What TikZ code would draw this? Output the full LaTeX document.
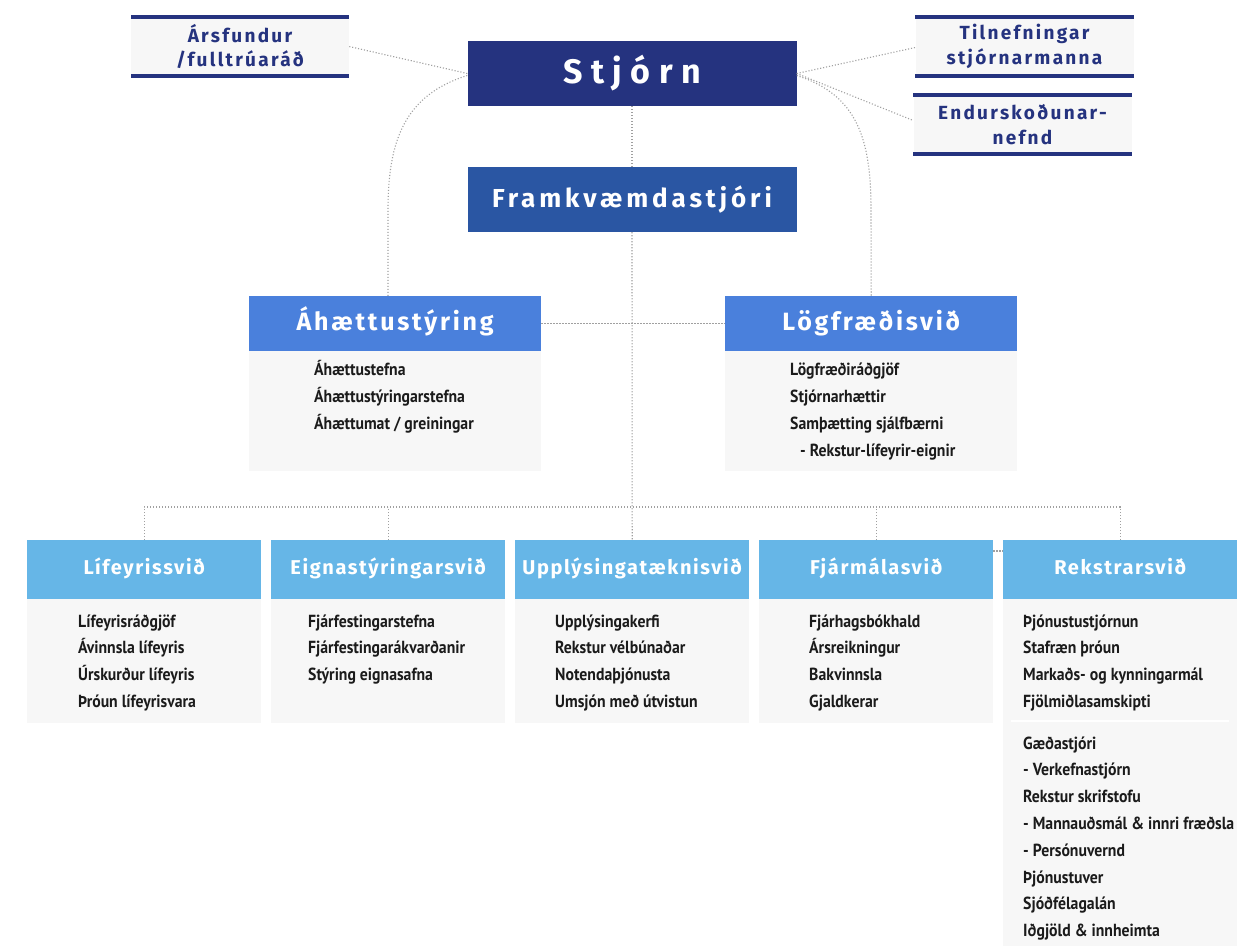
\documentclass[tikz,border=0pt]{standalone}
\usepackage{fontspec}
\setmainfont{PT Sans}
\newfontfamily\condf[FakeStretch=0.9]{PT Sans}
\newfontfamily\ttlf[LetterSpace=15]{Fira Sans}
\newfontfamily\hdrf[LetterSpace=11]{Fira Sans}
\newfontfamily\lowf[LetterSpace=8]{Fira Sans}
\newfontfamily\ttlsp[LetterSpace=25]{Fira Sans}
\newfontfamily\smallsp[LetterSpace=12]{Fira Sans}
\definecolor{navy}{HTML}{25337F}
\definecolor{framkc}{HTML}{2A56A3}
\definecolor{midblue}{HTML}{4A80DC}
\definecolor{lightblue}{HTML}{66B6E7}
\definecolor{bodygray}{HTML}{F7F7F7}
\definecolor{linegray}{HTML}{A0A0A0}
\definecolor{itemc}{HTML}{1B1B1B}
\begin{document}
\begin{tikzpicture}[x=1pt,y=-1pt,
  conn/.style={draw=linegray, line width=1.1pt, dash pattern=on 1.1pt off 1.9pt},
  topbox/.style={fill=navy, inner sep=0, minimum width=329pt, minimum height=65pt, text=white},
  smallbox/.style={fill=bodygray, inner sep=0, minimum width=218pt, minimum height=63pt, text=navy, align=center,
    font=\smallsp\bfseries\fontsize{19}{24.5}\selectfont},
  midhdr/.style={fill=midblue, inner sep=0, minimum width=292pt, minimum height=55pt, text=white,
    text height=18pt, text depth=5pt,
    font=\hdrf\bfseries\fontsize{25}{28}\selectfont, anchor=north west},
  midbody/.style={fill=bodygray, inner sep=0, minimum width=292pt, minimum height=120pt, anchor=north west},
  lowhdr/.style={fill=lightblue, inner sep=0, minimum width=234pt, minimum height=59pt, text=white,
    text height=14pt, text depth=4pt,
    font=\lowf\bfseries\fontsize{20}{22}\selectfont, anchor=north west},
  lowbody/.style={fill=bodygray, inner sep=0, minimum width=234pt, minimum height=124pt, anchor=north west},
  item/.style={anchor=base west, inner sep=0, text=itemc, font=\condf\bfseries\fontsize{17.5}{20}\selectfont}]
\useasboundingbox (0,0) rectangle (1255,946);
\fill[white] (0,0) rectangle (1255,946);

% top level
\node[topbox, fill=navy, font=\ttlsp\bfseries\fontsize{34}{36}\selectfont] (stjorn) at (632,73.5) {Stjórn};
\node[topbox, fill=framkc, font=\ttlf\bfseries\fontsize{26}{30}\selectfont] (framk) at (632,199.5) {Framkvæmdastjóri};

\node[smallbox] (arsf) at (240,46.5) {Ársfundur\\/fulltrúaráð};
\node[smallbox] (tiln) at (1024.5,46.5) {Tilnefningar\\stjórnarmanna};
\node[smallbox] (endur) at (1022.5,124.5) {Endurskoðunar-\\nefnd};
\foreach \n in {arsf,tiln,endur} {
  \fill[navy] (\n.north west) rectangle ([yshift=-4pt]\n.north east);
  \fill[navy] (\n.south west) rectangle ([yshift=4pt]\n.south east);
}

% middle level
\node[midhdr] (ahaett) at (249,296) {Áhættustýring};
\node[midbody] (ahaettb) at (249,351) {};
\node[midhdr] (logf) at (725,296) {Lögfræðisvið};
\node[midbody] (logfb) at (725,351) {};

\foreach \t [count=\i] in {Áhættustefna, Áhættustýringarstefna, Áhættumat / greiningar}
  \node[item] (ah-\i) at (314,{375+27*(\i-1)}) {\t};
\foreach \t [count=\i] in {Lögfræðiráðgjöf, Stjórnarhættir, Samþætting sjálfbærni}
  \node[item] (lg-\i) at (790,{375+27*(\i-1)}) {\t};
\node[item] (lg-4) at (800,456) {- Rekstur-lífeyrir-eignir};

% lower level
\node[lowhdr] (lif) at (27,540) {Lífeyrissvið};
\node[lowbody] (lifb) at (27,599) {};
\node[lowhdr] (eign) at (271,540) {Eignastýringarsvið};
\node[lowbody] (eignb) at (271,599) {};
\node[lowhdr] (upp) at (515,540) {Upplýsingatæknisvið};
\node[lowbody] (uppb) at (515,599) {};
\node[lowhdr] (fjar) at (759,540) {Fjármálasvið};
\node[lowbody] (fjarb) at (759,599) {};
\node[lowhdr] (rek) at (1003,540) {Rekstrarsvið};
\node[lowbody, minimum height=347pt] (rekb) at (1003,599) {};
\draw[white, line width=2.5pt] (1011,721) -- (1229,721);

\foreach \t [count=\i] in {Lífeyrisráðgjöf, Ávinnsla lífeyris, Úrskurður lífeyris, Þróun lífeyrisvara}
  \node[item] (li-\i) at (78,{627+26.7*(\i-1)}) {\t};
\foreach \t [count=\i] in {Fjárfestingarstefna, Fjárfestingarákvarðanir, Stýring eignasafna}
  \node[item] (ei-\i) at (308,{627+26.7*(\i-1)}) {\t};
\foreach \t [count=\i] in {Upplýsingakerfi, Rekstur vélbúnaðar, Notendaþjónusta, Umsjón með útvistun}
  \node[item] (up-\i) at (555,{627+26.7*(\i-1)}) {\t};
\foreach \t [count=\i] in {Fjárhagsbókhald, Ársreikningur, Bakvinnsla, Gjaldkerar}
  \node[item] (fj-\i) at (809,{627+26.7*(\i-1)}) {\t};
\foreach \t [count=\i] in {Þjónustustjórnun, Stafræn þróun, Markaðs- og kynningarmál, Fjölmiðlasamskipti}
  \node[item] (re-\i) at (1023,{627+26.7*(\i-1)}) {\t};
\foreach \t [count=\i] in {Gæðastjóri, - Verkefnastjórn, Rekstur skrifstofu, - Mannauðsmál \& innri fræðsla, - Persónuvernd, Þjónustuver, Sjóðfélagalán, Iðgjöld \& innheimta}
  \node[item] (rs-\i) at (1023,{749+26.8*(\i-1)}) {\t};

% connectors
\draw[conn] (stjorn.west) -- (arsf.east);
\draw[conn] (stjorn.east) -- ([yshift=-1pt]tiln.west);
\draw[conn] (stjorn.east) -- ([yshift=4pt]endur.west);
\draw[conn] (stjorn.south) -- (framk.north);
\draw[conn] ([yshift=-2pt]stjorn.west) .. controls (405,95) and (388,140) .. (388,210) -- (388,296);
\draw[conn] ([yshift=-2pt]stjorn.east) .. controls (858,95) and (871,140) .. (871,210) -- (logf.north);
\draw[conn] (ahaett.east) -- (logf.west);
\draw[conn] (framk.south) -- (upp.north);
\coordinate (bus) at (631,507);
\draw[conn] (lif.north) |- (bus -| rek.north) -- (rek.north);
\draw[conn] (eign.north) -- (eign.north |- bus);
\draw[conn] (fjar.north) -- (fjar.north |- bus);
\draw[conn] ([yshift=-11pt]fjar.north east) -- ([yshift=-11pt]rek.north west);
\end{tikzpicture}
\end{document}
